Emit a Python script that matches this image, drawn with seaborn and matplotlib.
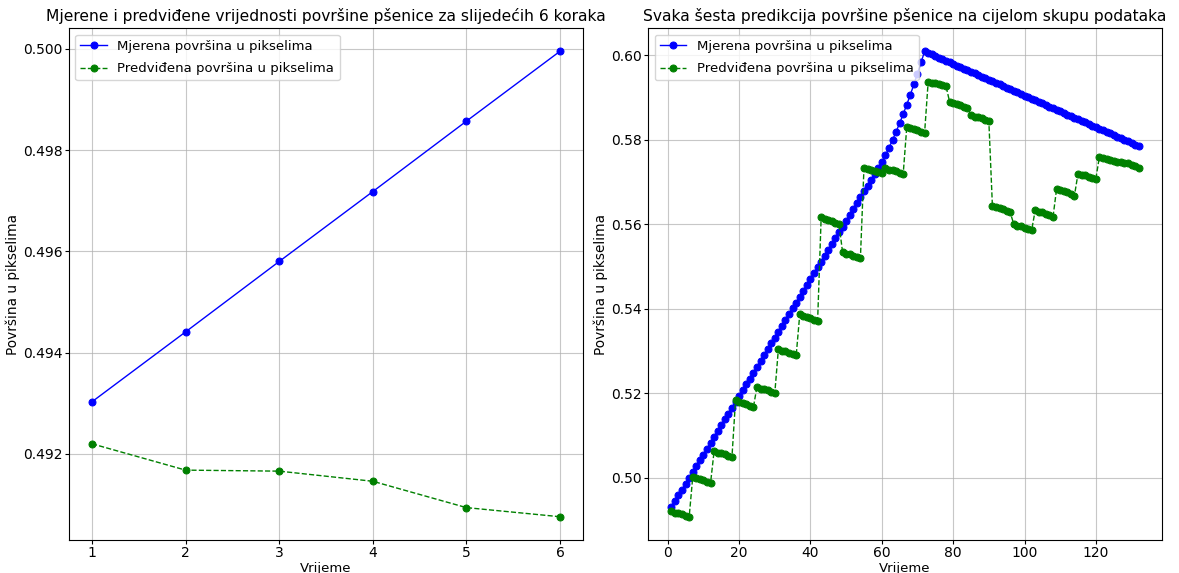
import matplotlib
matplotlib.use("Agg")
import matplotlib.pyplot as plt
import seaborn as sns
import pandas as pd

# Next 6 steps: measured vs predicted wheat area (pixels, normalised)
steps = [1, 2, 3, 4, 5, 6]
measured_next6 = [0.49303, 0.49441, 0.49580, 0.49718, 0.49857, 0.49995]
predicted_next6 = [0.49220, 0.49168, 0.49166, 0.49146, 0.49094, 0.49076]

# Whole data set: measured area per time step
measured_all = [
    0.49303, 0.49441, 0.49580, 0.49718, 0.49857, 0.49995, 0.50133, 0.50272, 0.50410, 0.50549,
    0.50687, 0.50825, 0.50964, 0.51102, 0.51241, 0.51379, 0.51517, 0.51656, 0.51794, 0.51933,
    0.52071, 0.52209, 0.52348, 0.52486, 0.52625, 0.52763, 0.52901, 0.53040, 0.53178, 0.53317,
    0.53455, 0.53593, 0.53732, 0.53870, 0.54009, 0.54147, 0.54285, 0.54424, 0.54562, 0.54701,
    0.54839, 0.54977, 0.55116, 0.55254, 0.55393, 0.55531, 0.55669, 0.55808, 0.55946, 0.56085,
    0.56223, 0.56361, 0.56500, 0.56638, 0.56777, 0.56915, 0.57053, 0.57192, 0.57330, 0.57469,
    0.57634, 0.57809, 0.57994, 0.58189, 0.58394, 0.58609, 0.58834, 0.59069, 0.59314, 0.59569,
    0.59834, 0.60096, 0.60059, 0.60021, 0.59984, 0.59946, 0.59909, 0.59871, 0.59834, 0.59797,
    0.59759, 0.59722, 0.59684, 0.59647, 0.59609, 0.59572, 0.59535, 0.59497, 0.59460, 0.59422,
    0.59385, 0.59347, 0.59310, 0.59273, 0.59235, 0.59198, 0.59160, 0.59123, 0.59085, 0.59048,
    0.59011, 0.58973, 0.58936, 0.58898, 0.58861, 0.58823, 0.58786, 0.58749, 0.58711, 0.58674,
    0.58636, 0.58599, 0.58561, 0.58524, 0.58487, 0.58449, 0.58412, 0.58374, 0.58337, 0.58299,
    0.58262, 0.58225, 0.58187, 0.58150, 0.58112, 0.58075, 0.58037, 0.58000, 0.57963, 0.57925,
    0.57888, 0.57850,
]

# Whole data set: every sixth step a new 6-step prediction
predicted_all = [
    0.49220, 0.49168, 0.49166, 0.49146, 0.49094, 0.49076,
    0.50020, 0.49985, 0.49975, 0.49950, 0.49905, 0.49880,
    0.50640, 0.50595, 0.50585, 0.50560, 0.50520, 0.50500,
    0.51840, 0.51795, 0.51780, 0.51750, 0.51700, 0.51670,
    0.52150, 0.52110, 0.52095, 0.52070, 0.52025, 0.52000,
    0.53040, 0.53000, 0.52990, 0.52960, 0.52920, 0.52900,
    0.53870, 0.53825, 0.53810, 0.53780, 0.53730, 0.53700,
    0.56170, 0.56125, 0.56110, 0.56080, 0.56030, 0.56000,
    0.55340, 0.55300, 0.55290, 0.55260, 0.55220, 0.55200,
    0.57340, 0.57305, 0.57295, 0.57270, 0.57235, 0.57220,
    0.57330, 0.57295, 0.57285, 0.57260, 0.57220, 0.57200,
    0.58310, 0.58270, 0.58260, 0.58230, 0.58190, 0.58170,
    0.59380, 0.59350, 0.59340, 0.59320, 0.59290, 0.59270,
    0.58900, 0.58860, 0.58850, 0.58820, 0.58780, 0.58750,
    0.58590, 0.58550, 0.58540, 0.58510, 0.58470, 0.58450,
    0.56440, 0.56400, 0.56390, 0.56360, 0.56310, 0.56280,
    0.56000, 0.55960, 0.55950, 0.55920, 0.55880, 0.55860,
    0.56330, 0.56290, 0.56280, 0.56250, 0.56210, 0.56180,
    0.56840, 0.56800, 0.56790, 0.56760, 0.56710, 0.56680,
    0.57200, 0.57170, 0.57160, 0.57130, 0.57100, 0.57080,
    0.57600, 0.57570, 0.57555, 0.57530, 0.57500, 0.57480,
    0.57480, 0.57450, 0.57440, 0.57410, 0.57370, 0.57340,
]

label_measured = "Mjerena površina u pikselima"
label_predicted = "Predviđena površina u pikselima"

plt.rcParams["font.family"] = ["DejaVu Sans"]

fig = plt.figure(figsize=(11.79, 5.73), dpi=100)
ax1 = fig.add_axes([0.0582, 0.0576, 0.4366, 0.8935])
ax2 = fig.add_axes([0.5496, 0.0576, 0.4360, 0.8935])

line_kw = dict(marker="o", markersize=5, linewidth=1.0)

df1 = pd.DataFrame({"t": steps, "m": measured_next6, "p": predicted_next6})
sns.lineplot(data=df1, x="t", y="m", ax=ax1, color="blue", label=label_measured,
             markeredgecolor="blue", **line_kw)
sns.lineplot(data=df1, x="t", y="p", ax=ax1, color="green", label=label_predicted,
             linestyle="--", markeredgecolor="green", **line_kw)
ax1.set_title("Mjerene i predviđene vrijednosti površine pšenice za slijedećih 6 koraka",
              fontsize=11.2, pad=5)
ax1.set_yticks([0.492, 0.494, 0.496, 0.498, 0.500])
ax1.set_yticklabels(["0.492", "0.494", "0.496", "0.498", "0.500"])

t_all = list(range(1, len(measured_all) + 1))
df2 = pd.DataFrame({"t": t_all, "m": measured_all, "p": predicted_all})
sns.lineplot(data=df2, x="t", y="m", ax=ax2, color="blue", label=label_measured,
             markeredgecolor="blue", **line_kw)
sns.lineplot(data=df2, x="t", y="p", ax=ax2, color="green", label=label_predicted,
             linestyle="--", markeredgecolor="green", **line_kw)
ax2.set_title("Svaka šesta predikcija površine pšenice na cijelom skupu podataka",
              fontsize=11.2, pad=5)
ax2.set_xticks([0, 20, 40, 60, 80, 100, 120])
ax2.set_yticks([0.50, 0.52, 0.54, 0.56, 0.58, 0.60])
ax2.set_yticklabels(["0.50", "0.52", "0.54", "0.56", "0.58", "0.60"])

for ax in (ax1, ax2):
    ax.set_xlabel("Vrijeme", fontsize=9.5, labelpad=1.5)
    ax.set_ylabel("Površina u pikselima", fontsize=9.8, labelpad=2)
    ax.grid(True, color="#b0b0b0", linewidth=0.8, alpha=0.7)
    ax.legend(loc="upper left", fontsize=9.5, labelspacing=0.7)
    ax.tick_params(labelsize=10, length=3, pad=1.5)

fig.savefig("out.png", dpi=100)
